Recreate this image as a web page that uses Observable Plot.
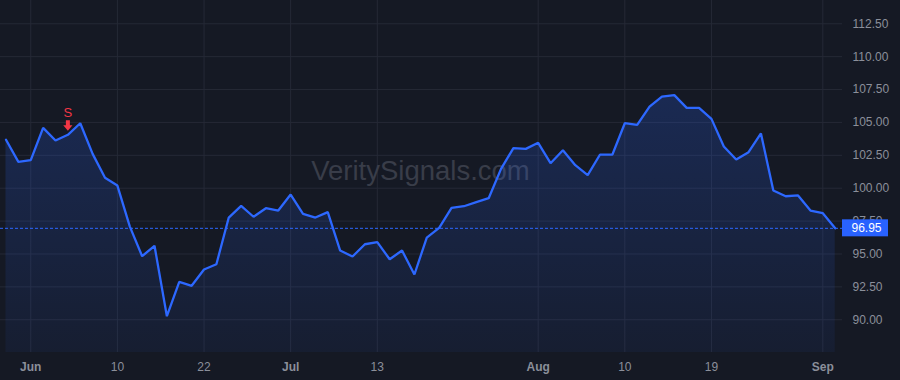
<!DOCTYPE html>
<html><head><meta charset="utf-8">
<script src="https://cdn.jsdelivr.net/npm/d3@7"></script>
<script src="https://cdn.jsdelivr.net/npm/@observablehq/plot@0.6"></script>
<style>
html,body{margin:0;padding:0;background:#151924;}
#chart{width:900px;height:380px;overflow:hidden;}
</style></head><body><div id="chart"></div>
<script>
// ---- data ----
const dates = [
  "2022-05-27","2022-05-31",
  "2022-06-01","2022-06-02","2022-06-03","2022-06-06","2022-06-07","2022-06-08","2022-06-09","2022-06-10",
  "2022-06-13","2022-06-14","2022-06-15","2022-06-16","2022-06-17","2022-06-21","2022-06-22","2022-06-23",
  "2022-06-24","2022-06-27","2022-06-28","2022-06-29","2022-06-30",
  "2022-07-01","2022-07-05","2022-07-06","2022-07-07","2022-07-08","2022-07-11","2022-07-12","2022-07-13",
  "2022-07-14","2022-07-15","2022-07-18","2022-07-19","2022-07-20","2022-07-21","2022-07-22","2022-07-25",
  "2022-07-26","2022-07-27","2022-07-28","2022-07-29",
  "2022-08-01","2022-08-02","2022-08-03","2022-08-04","2022-08-05","2022-08-08","2022-08-09","2022-08-10",
  "2022-08-11","2022-08-12","2022-08-15","2022-08-16","2022-08-17","2022-08-18","2022-08-19","2022-08-22",
  "2022-08-23","2022-08-24","2022-08-25","2022-08-26","2022-08-29","2022-08-30","2022-08-31",
  "2022-09-01","2022-09-02"
];
const closes = [
  103.68, 102.00,
  102.13, 104.59, 103.63, 104.06, 104.94, 102.61, 100.79, 100.20,
  97.10, 94.83, 95.62, 90.27, 92.88, 92.58, 93.82, 94.22,
  97.77, 98.66, 97.83, 98.48, 98.30,
  99.52, 98.05, 97.77, 98.18, 95.26, 94.81, 95.74, 95.90,
  94.60, 95.26, 93.44, 96.25, 96.98, 98.50, 98.63, 98.94,
  99.24, 101.47, 103.05, 102.99,
  103.45, 101.90, 102.89, 101.75, 100.99, 102.56, 102.56, 104.94,
  104.82, 106.21, 106.97, 107.08, 106.11, 106.11, 105.27, 103.17,
  102.18, 102.74, 104.16, 99.83, 99.39, 99.45, 98.30,
  98.10, 96.95
];
const yTicks = [90, 92.5, 95, 97.5, 100, 102.5, 105, 107.5, 110, 112.5];
const xTickDates = ["2022-06-01","2022-06-10","2022-06-22","2022-07-01","2022-07-13","2022-08-01","2022-08-10","2022-08-19","2022-09-01"];
const xTickLabels = ["Jun","10","22","Jul","13","Aug","10","19","Sep"];
const xTickIsMonth = [true,false,false,true,false,true,false,false,true];
const signalDates = ["2022-06-06"];
const signalLabels = ["S"];
const lastValue = 96.95;
const watermark = "VeritySignals.com";

// ---- tables ----
const rows = dates.map((d, i) => ({i, date: d, close: closes[i]}));
const ticks = xTickDates.map((d, k) => ({i: dates.indexOf(d), label: xTickLabels[k], month: xTickIsMonth[k]}));
const signals = signalDates.map((d, k) => ({i: dates.indexOf(d), close: closes[dates.indexOf(d)], label: signalLabels[k]}));

const BLUE = "#2d68ff";
const RED = "#f23645";
const GRID = "#252936";
const TEXT = "#8b8f9a";
const FONT = "'Liberation Sans', Arial, sans-serif";

const arrowSymbol = {
  draw(ctx) {
    ctx.moveTo(-2, -5.5); ctx.lineTo(2, -5.5); ctx.lineTo(2, -0.5);
    ctx.lineTo(4.6, -0.5); ctx.lineTo(0, 5); ctx.lineTo(-4.6, -0.5);
    ctx.lineTo(-2, -0.5); ctx.closePath();
  }
};

function gradientDefs(index, scales, values, dims) {
  const g = d3.create("svg:defs");
  const lg = g.append("linearGradient").attr("id", "areaGrad")
    .attr("gradientUnits", "userSpaceOnUse")
    .attr("x1", 0).attr("x2", 0)
    .attr("y1", dims.marginTop).attr("y2", dims.height - dims.marginBottom);
  lg.append("stop").attr("offset", "0%").attr("stop-color", BLUE).attr("stop-opacity", 0.27);
  lg.append("stop").attr("offset", "100%").attr("stop-color", BLUE).attr("stop-opacity", 0.06);
  return g.node();
}

function lastLabel(index, scales, values, dims) {
  const g = d3.create("svg:g");
  const y = scales.y(lastValue);
  const x0 = dims.width - dims.marginRight;
  g.append("rect").attr("x", x0).attr("y", y - 8.5).attr("width", 46).attr("height", 17)
    .attr("fill", "#2962ff");
  g.append("text").attr("x", x0 + 9.5).attr("y", y).attr("dy", "0.36em")
    .attr("text-anchor", "start")
    .attr("fill", "#ffffff").attr("font-size", 12).attr("font-family", FONT)
    .text(d3.format(".2f")(lastValue));
  return g.node();
}

const plot = Plot.plot({
  width: 900,
  height: 380,
  marginLeft: 0,
  marginRight: 58,
  marginTop: 0,
  marginBottom: 28,
  style: {background: "#151924", color: TEXT, fontFamily: FONT, fontSize: "12px"},
  x: {type: "linear", domain: [0, dates.length - 1], insetLeft: 5.5, insetRight: 7.3, axis: null},
  y: {domain: [87.51, 114.27], axis: null},
  marks: [
    gradientDefs,
    Plot.gridX(ticks.map(t => t.i), {stroke: GRID, strokeOpacity: 1}),
    Plot.gridY(yTicks, {stroke: GRID, strokeOpacity: 1}),
    Plot.text([watermark], {frameAnchor: "middle", dy: -5, dx: -1, fontSize: 27.5, fill: "#393d49"}),
    Plot.areaY(rows, {x: "i", y: "close", fill: "url(#areaGrad)", clip: true}),
    Plot.ruleY([lastValue], {stroke: BLUE, strokeWidth: 1, strokeDasharray: "3,2"}),
    Plot.lineY(rows, {x: "i", y: "close", stroke: BLUE, strokeWidth: 2.3, strokeLinejoin: "miter"}),
    Plot.dot(signals, {x: "i", y: "close", symbol: arrowSymbol, fill: RED, stroke: "none", dy: -9}),
    Plot.text(signals, {x: "i", y: "close", text: "label", fill: RED, fontSize: 13, dy: -22}),
    Plot.axisY(yTicks, {anchor: "right", tickSize: 0, tickPadding: 10, tickFormat: d3.format(".2f"), fill: TEXT, fontSize: 12, label: null}),
    Plot.text(ticks.filter(t => t.month), {x: "i", text: "label", frameAnchor: "bottom", lineAnchor: "top", dy: 10, fill: TEXT, fontSize: 12, fontWeight: "bold"}),
    Plot.text(ticks.filter(t => !t.month), {x: "i", text: "label", frameAnchor: "bottom", lineAnchor: "top", dy: 10, fill: TEXT, fontSize: 12}),
    lastLabel
  ]
});
document.getElementById("chart").appendChild(plot);
</script>
</body></html>
